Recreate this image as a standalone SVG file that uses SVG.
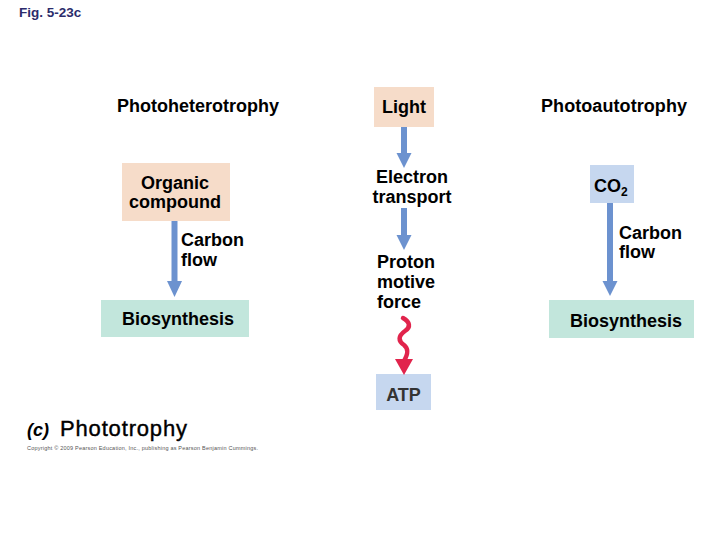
<svg xmlns="http://www.w3.org/2000/svg" width="720" height="540" viewBox="0 0 720 540">
<defs>
<style>
text{font-family:"Liberation Sans",Arial,sans-serif;fill:#000}
.b{font-weight:bold;font-size:18px}
.peach{fill:#f6dcc9}
.green{fill:#c2e6dc}
.blue{fill:#c6d7ef}
.shaft{stroke:#6c92cf;stroke-width:6;fill:none}
.head{fill:#6c92cf}
</style>
</defs>
<rect width="720" height="540" fill="#fff"/>
<text x="19" y="17" style="font-weight:bold;font-size:13.5px;fill:#2b2b6b">Fig. 5-23c</text>

<text class="b" x="117" y="112" textLength="162">Photoheterotrophy</text>
<text class="b" x="541" y="112" textLength="146">Photoautotrophy</text>

<g id="organic">
<rect class="peach" x="122" y="163" width="108" height="58"/>
<text class="b" x="175" y="189" text-anchor="middle">Organic</text>
<text class="b" x="175" y="208" text-anchor="middle">compound</text>
</g>
<g id="bios1">
<rect class="green" x="101" y="300" width="148" height="37"/>
<text class="b" x="122" y="325">Biosynthesis</text>
</g>
<g id="light">
<rect class="peach" x="374" y="87" width="60" height="40"/>
<text class="b" x="404" y="113" text-anchor="middle">Light</text>
</g>
<g id="electron">
<text class="b" x="412" y="183" text-anchor="middle">Electron</text>
<text class="b" x="412" y="203" text-anchor="middle">transport</text>
</g>
<g id="proton">
<text class="b" x="377" y="268">Proton</text>
<text class="b" x="377" y="288">motive</text>
<text class="b" x="377" y="308">force</text>
</g>
<g id="atp">
<rect class="blue" x="376" y="374" width="55" height="36"/>
<text x="403.5" y="401" text-anchor="middle" style="font-weight:bold;font-size:18px;fill:#333">ATP</text>
</g>
<g id="co2">
<rect class="blue" x="590" y="165" width="44" height="38"/>
<text class="b" x="594" y="192">CO<tspan dy="4" font-size="12">2</tspan></text>
</g>
<g id="bios2">
<rect class="green" x="549" y="300" width="145" height="38"/>
<text class="b" x="570" y="327">Biosynthesis</text>
</g>

<g id="connectors">
<line class="shaft" x1="174.5" y1="221" x2="174.5" y2="282"/>
<polygon class="head" points="167,281 182,281 174.5,297"/>
<text class="b" x="181" y="246">Carbon</text>
<text class="b" x="181" y="266">flow</text>

<line class="shaft" x1="404" y1="127" x2="404" y2="154"/>
<polygon class="head" points="396.5,153 411.5,153 404,168"/>
<line class="shaft" x1="404" y1="208" x2="404" y2="236"/>
<polygon class="head" points="396.5,235 411.5,235 404,250"/>

<path d="M403,318 c7,4 8,9 2,13 c-7,5 -7,10 -1,14 c5,4 4,9 0,16" fill="none" stroke="#e1244c" stroke-width="4.5" stroke-linecap="round"/>
<polygon points="395,359 413,359 404,375" fill="#e1244c"/>

<line class="shaft" x1="610" y1="203" x2="610" y2="282"/>
<polygon class="head" points="602.5,281 617.5,281 610,296"/>
<text class="b" x="619" y="239">Carbon</text>
<text class="b" x="619" y="258">flow</text>
</g>

<text x="27" y="436" style="font-weight:bold;font-style:italic;font-size:18px">(c)</text>
<text x="60" y="436" style="font-size:22px;stroke:#000;stroke-width:0.4" textLength="127">Phototrophy</text>
<text x="27" y="450" style="font-size:5.5px;fill:#555" textLength="231">Copyright © 2009 Pearson Education, Inc., publishing as Pearson Benjamin Cummings.</text>
</svg>
